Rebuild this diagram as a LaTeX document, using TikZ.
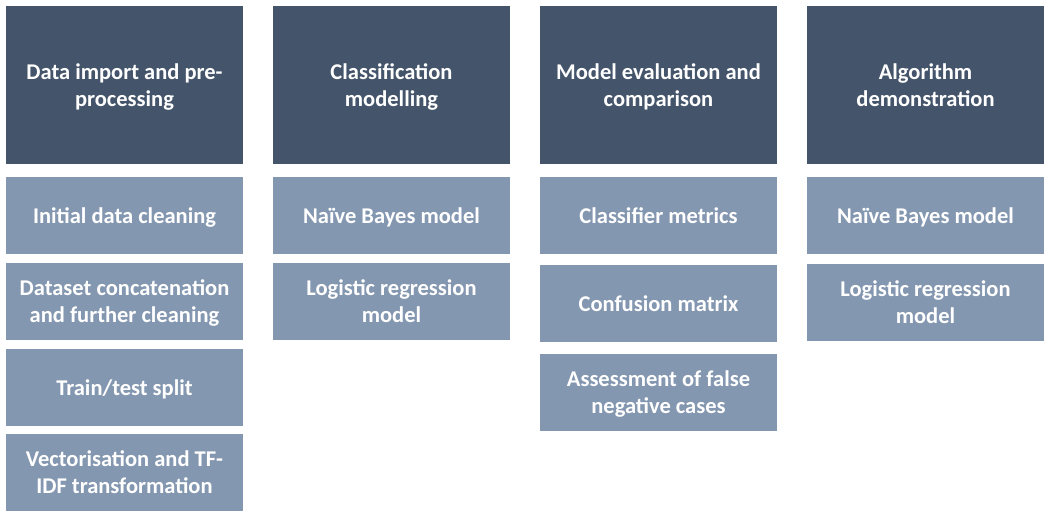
\documentclass[tikz,border=0pt]{standalone}
\usepackage{fontspec}
\setmainfont{Carlito}
\definecolor{headc}{HTML}{44546A}
\definecolor{subc}{HTML}{8497B0}
\begin{document}
\begin{tikzpicture}[x=1pt,y=-1pt,
  box/.style={rectangle, inner sep=0pt, text=white, align=center,
    font=\fontsize{22.5}{27}\selectfont\bfseries, minimum width=237pt},
  onel/.style={execute at begin node={\rule{0pt}{21pt}},
    execute at end node={\rule[-6pt]{0pt}{0pt}}},
  twol/.style={text depth=0pt},
  headbox/.style={box, twol, fill=headc, minimum height=158pt},
  subbox/.style={box, onel, fill=subc, minimum height=77pt},
  subboxtwo/.style={box, twol, fill=subc, minimum height=77pt}]
\useasboundingbox (0,0) rectangle (1051,513);
% headers
\node[headbox] (h1) at (124.5,85) {Data import and pre-\\processing};
\node[headbox] (h2) at (391.5,85) {Classification\\modelling};
\node[headbox] (h3) at (658.5,85) {Model evaluation and\\comparison};
\node[headbox] (h4) at (925.5,85) {Algorithm\\demonstration};
% column 1
\node[subbox] (a1) at (124.5,215.5) {Initial data cleaning};
\node[subboxtwo] (a2) at (124.5,301.5) {Dataset concatenation\\and further cleaning};
\node[subbox] (a3) at (124.5,387.5) {Train/test split};
\node[subboxtwo] (a4) at (124.5,472.5) {Vectorisation and TF-\\IDF transformation};
% column 2
\node[subbox] (b1) at (391.5,215.5) {Naïve Bayes model};
\node[subboxtwo] (b2) at (391.5,301.5) {Logistic regression\\model};
% column 3
\node[subbox] (c1) at (658.5,215.5) {Classifier metrics};
\node[subbox] (c2) at (658.5,303.5) {Confusion matrix};
\node[subboxtwo] (c3) at (658.5,392.5) {Assessment of false\\negative cases};
% column 4
\node[subbox] (d1) at (925.5,215.5) {Naïve Bayes model};
\node[subboxtwo] (d2) at (925.5,302.5) {Logistic regression\\model};
\end{tikzpicture}
\end{document}
